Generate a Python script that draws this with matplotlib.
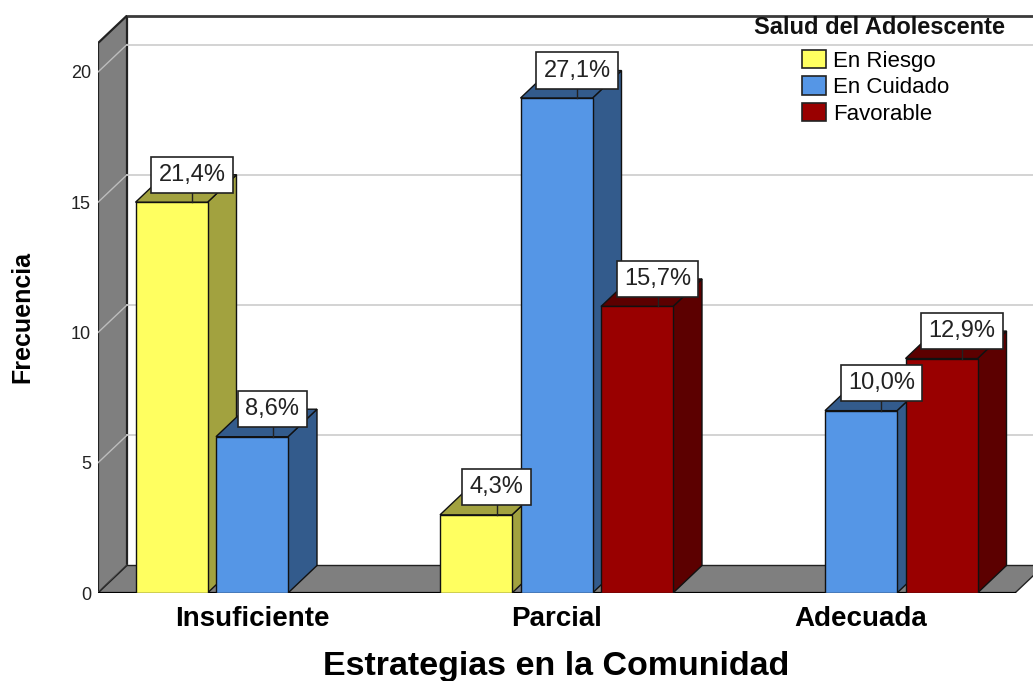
import numpy as np
import matplotlib
matplotlib.use('Agg')
import matplotlib.pyplot as plt
from matplotlib.patches import Polygon, Rectangle, Patch


#==============================================================================
# datos

categorias = ['Insuficiente', 'Parcial', 'Adecuada']
series = ['En Riesgo', 'En Cuidado', 'Favorable']

frec_riesgo = [15, 3, 0]
frec_cuidado = [6, 19, 7]
frec_favorable = [0, 11, 9]

pct_riesgo = ['21,4%', '4,3%', '']
pct_cuidado = ['8,6%', '27,1%', '10,0%']
pct_favorable = ['', '15,7%', '12,9%']

y_ticks = [0, 5, 10, 15, 20]

# colores (frente, lado/tapa)
col_front = ['#FFFF60', '#5596E6', '#990000']
col_side = ['#A2A23F', '#335B8C', '#5C0000']

#==============================================================================

plt.rcParams['font.family'] = ['Liberation Sans', 'DejaVu Sans']

W_PX, H_PX = 1033, 681
fig = plt.figure(figsize=(W_PX / 100, H_PX / 100), dpi=100)

# escala: px por unidad de grupo / por unidad de frecuencia
sx = 304.5
sy = 26.05
ax = fig.add_axes([98 / W_PX, 88 / H_PX, 935 / W_PX, 578 / H_PX])
x0 = -154 / sx
x1 = 781 / sx
ax.set_xlim(x0, x1)
ax.set_ylim(0, 578 / sy)

DX = 29 / sx
DY = 27.5 / sy
bw = 72 / sx
step = 80.5 / sx
y_top = 21.11
x_floor = 763 / sx

# pared izquierda
ax.add_patch(Polygon([(x0, 0), (x0, y_top), (x0 + DX, y_top + DY), (x0 + DX, DY)],
                     closed=True, fc='#7F7F7F', ec='#222222', lw=1.6, zorder=1))
# borde superior pared del fondo
ax.plot([x0 + DX, x1], [y_top + DY, y_top + DY], color='#3A3A3A', lw=2, zorder=1,
        solid_capstyle='butt')

# lineas de rejilla
for t in y_ticks:
    ax.plot([x0, x0 + DX], [t, t + DY], color='#BDBDBD', lw=1, zorder=2)
    ax.plot([x0 + DX, x1], [t + DY, t + DY], color='#D0D0D0', lw=1.3, zorder=1.5)

# piso
ax.add_patch(Polygon([(x0, 0), (x_floor, 0), (x_floor + DX, DY), (x0 + DX, DY)],
                     closed=True, fc='#7F7F7F', ec='#222222', lw=1, zorder=3))
ax.plot([x0, x_floor], [0, 0], color='black', lw=1.6, zorder=3.5)

frec = [frec_riesgo, frec_cuidado, frec_favorable]
pcts = [pct_riesgo, pct_cuidado, pct_favorable]

z = 10
for i in range(len(categorias)):
    for j in range(len(series)):
        v = frec[j][i]
        if v <= 0:
            continue
        xc = i + (j - 1) * step
        xl = xc - bw / 2
        xr = xc + bw / 2
        ax.add_patch(Polygon([(xr, 0), (xr + DX, DY), (xr + DX, v + DY), (xr, v)],
                             closed=True, fc=col_side[j], ec='#111111', lw=1, zorder=z))
        ax.add_patch(Polygon([(xl, v), (xr, v), (xr + DX, v + DY), (xl + DX, v + DY)],
                             closed=True, fc=col_side[j], ec='#111111', lw=1, zorder=z))
        ax.add_patch(Rectangle((xl, 0), bw, v, fc=col_front[j], ec='#111111', lw=1,
                               zorder=z + 0.5))
        z += 1

# etiquetas de porcentaje
for i in range(len(categorias)):
    for j in range(len(series)):
        v = frec[j][i]
        if v <= 0:
            continue
        xc = i + (j - 1) * step + DX / 2 + 6 / sx
        ax.plot([xc, xc], [v, v + DY], color='#222222', lw=1, zorder=50)
        ax.text(xc, v + DY, pcts[j][i], ha='center', va='center', fontsize=17,
                color='#222222', zorder=60,
                bbox=dict(boxstyle='square,pad=0.3', fc='white', ec='#222222', lw=1.2))

for s in ax.spines.values():
    s.set_visible(False)
ax.set_yticks(y_ticks)
ax.set_yticklabels([str(t) for t in y_ticks], fontsize=13, color='#222222')
ax.tick_params(axis='y', length=0, pad=5)
ax.set_xticks(range(len(categorias)))
ax.set_xticklabels(categorias, fontsize=20, fontweight='bold')
ax.tick_params(axis='x', length=0, pad=9)

fig.text(556 / W_PX, 1 - 666 / H_PX, 'Estrategias en la Comunidad', ha='center', va='center',
         fontsize=24.5, fontweight='bold')
fig.text(22 / W_PX, 1 - 317 / H_PX, 'Frecuencia', ha='center', va='center', rotation=90,
         fontsize=18, fontweight='bold')

# leyenda
fig.text(880 / W_PX, 1 - 28 / H_PX, 'Salud del Adolescente', ha='center', va='center',
         fontsize=17, fontweight='bold', color='#111111')
handles = [Patch(fc=col_front[j], ec='#222222', lw=1.2) for j in range(len(series))]
leg = ax.legend(handles, series, loc='upper left',
                bbox_to_anchor=(802 / W_PX, 1 - 50 / H_PX), bbox_transform=fig.transFigure,
                frameon=False, fontsize=16, handlelength=1.08, handleheight=0.9,
                handletextpad=0.3, labelspacing=0.2, borderpad=0, borderaxespad=0)
leg.set_zorder(100)

fig.savefig('out.png', dpi=100)
